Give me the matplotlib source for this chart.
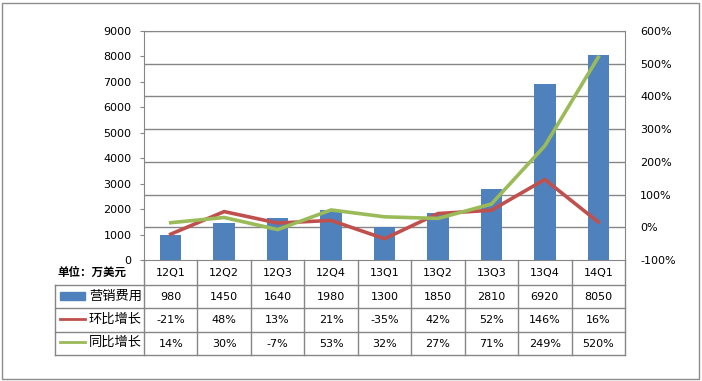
import matplotlib.pyplot as plt
from matplotlib.patches import Rectangle

plt.rcParams['font.family'] = ['DejaVu Sans', 'Noto Sans CJK SC']

quarters = ['12Q1', '12Q2', '12Q3', '12Q4', '13Q1', '13Q2', '13Q3', '13Q4', '14Q1']
spend = [980, 1450, 1640, 1980, 1300, 1850, 2810, 6920, 8050]
qoq = [-21, 48, 13, 21, -35, 42, 52, 146, 16]
yoy = [14, 30, -7, 53, 32, 27, 71, 249, 520]

c_bar = '#4F81BD'
c_red = '#C0504D'
c_green = '#9BBB59'
c_grid = '#868686'

W, H = 702, 381
fig = plt.figure(figsize=(W / 100, H / 100), dpi=100)

# outer border
fig.patches.append(Rectangle((2 / W, 2 / H), 697 / W, 376 / H, transform=fig.transFigure,
                             fill=False, ec='#8c8c8c', lw=1))

x0, x1, ytop, ybot = 144, 625, 31, 260
ax = fig.add_axes([x0 / W, 1 - ybot / H, (x1 - x0) / W, (ybot - ytop) / H])
n = len(quarters)
xs = list(range(n))
ax.bar(xs, spend, width=0.4, color=c_bar, zorder=2)
ax.set_xlim(-0.5, n - 0.5)
ax.set_ylim(0, 9000)
ax.set_yticks(range(0, 9001, 1000))
ax.set_xticks([])
ax.tick_params(axis='y', length=3, color=c_grid, labelsize=8, pad=6)
for s in ax.spines.values():
    s.set_color(c_grid)
# gridlines follow the right-hand axis
for v in range(0, 601, 100):
    ax.axhline((v + 100) / 700 * 9000, color=c_grid, lw=1, zorder=1)

ax2 = ax.twinx()
ax2.plot(xs, qoq, color=c_red, lw=2.6, zorder=3)
ax2.plot(xs, yoy, color=c_green, lw=2.6, zorder=3)
ax2.set_ylim(-100, 600)
ax2.set_yticks(range(-100, 601, 100))
ax2.set_yticklabels([f'{v}%' for v in range(-100, 601, 100)])
ax2.tick_params(axis='y', length=0, labelsize=8, pad=11)
for s in ax2.spines.values():
    s.set_visible(False)
ax2.set_zorder(ax.get_zorder() + 1)
ax2.patch.set_visible(False)

# data table
tl = 55
col_w = (x1 - x0) / n
tab = fig.add_axes([tl / W, 1 - 355 / H, (x1 - tl) / W, (355 - ybot) / H])
left = -0.5 - (x0 - tl) / col_w
tab.set_xlim(left, n - 0.5)
tab.set_ylim(355, ybot)
tab.axis('off')
lk = dict(color=c_grid, lw=1, clip_on=False)
for y in [285, 308, 332, 355]:
    tab.plot([left, n - 0.5], [y, y], **lk)
for i in range(n + 1):
    tab.plot([i - 0.5, i - 0.5], [ybot, 355], **lk)
tab.plot([left, left], [285, 355], **lk)

for i, q in enumerate(quarters):
    tab.text(i, 273, q, ha='center', va='center', fontsize=8)
    tab.text(i, 297, str(spend[i]), ha='center', va='center', fontsize=8)
    tab.text(i, 320, f'{qoq[i]}%', ha='center', va='center', fontsize=8)
    tab.text(i, 344, f'{yoy[i]}%', ha='center', va='center', fontsize=8)

px = lambda p: left + (p - tl) / col_w
tab.text(px(57), 272, '单位：万美元', ha='left', va='center', fontsize=8.3,
         fontweight='bold', family=['Noto Sans CJK SC'])
tab.add_patch(Rectangle((px(60), 292), 25 / col_w, 8, color=c_bar))
tab.plot([px(60), px(85)], [319, 319], color=c_red, lw=2)
tab.plot([px(60), px(85)], [342, 342], color=c_green, lw=2)
for y, lab in zip([296, 319, 342], ['营销费用', '环比增长', '同比增长']):
    tab.text(px(89), y, lab, ha='left', va='center', fontsize=9.5)

fig.savefig('out.png', dpi=100)
